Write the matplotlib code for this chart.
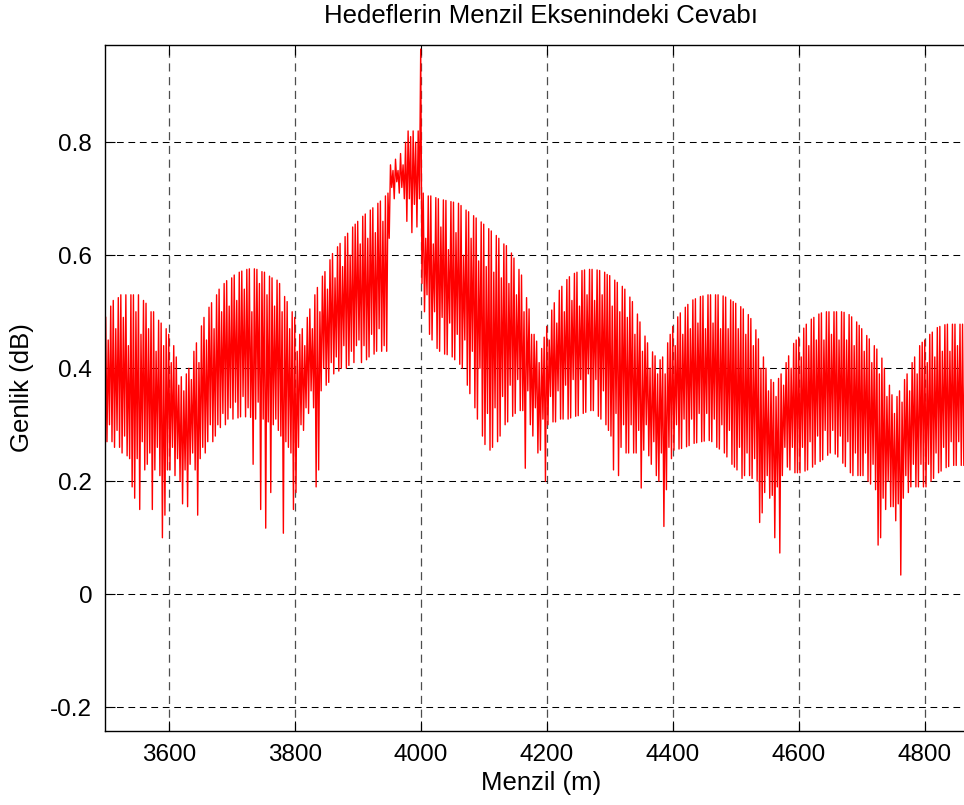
import numpy as np
import matplotlib
matplotlib.use("Agg")
import matplotlib.pyplot as plt

plt.rcParams['font.family'] = ['Liberation Sans', 'DejaVu Sans']

# menzil ekseni: her 2 m'de bir ornek (tepe, cukur, tepe, cukur ...)
menzil_bas = 3500
adim = 2

# tepe degerleri (her satir 100 m)
tepe = [
    0.49, 0.45, 0.51, 0.52, 0.47, 0.525, 0.53, 0.49, 0.53, 0.44, 0.53, 0.53, 0.50, 0.53, 0.46, 0.52, 0.515, 0.47, 0.50, 0.50, 0.43, 0.485, 0.48, 0.44, 0.47,
    0.46, 0.41, 0.44, 0.42, 0.37, 0.385, 0.36, 0.39, 0.40, 0.38, 0.43, 0.445, 0.41, 0.475, 0.49, 0.45, 0.508, 0.516, 0.47, 0.53, 0.54, 0.50, 0.55, 0.555, 0.51,
    0.56, 0.565, 0.52, 0.57, 0.572, 0.54, 0.575, 0.576, 0.50, 0.576, 0.575, 0.55, 0.571, 0.57, 0.53, 0.563, 0.56, 0.51, 0.556, 0.55, 0.50, 0.527, 0.518, 0.47, 0.50,
    0.49, 0.43, 0.46, 0.47, 0.44, 0.49, 0.505, 0.47, 0.53, 0.543, 0.50, 0.563, 0.571, 0.54, 0.592, 0.603, 0.56, 0.615, 0.621, 0.58, 0.633, 0.639, 0.60, 0.65, 0.655,
    0.66, 0.62, 0.669, 0.673, 0.63, 0.68, 0.684, 0.64, 0.692, 0.696, 0.66, 0.705, 0.71, 0.76, 0.75, 0.77, 0.75, 0.78, 0.76, 0.80, 0.82, 0.81, 0.82, 0.80, 0.82,
    0.965, 0.71, 0.63, 0.705, 0.705, 0.62, 0.702, 0.70, 0.65, 0.698, 0.697, 0.61, 0.695, 0.694, 0.64, 0.692, 0.688, 0.60, 0.68, 0.677, 0.63, 0.67, 0.666, 0.59, 0.659,
    0.655, 0.58, 0.647, 0.643, 0.57, 0.635, 0.63, 0.56, 0.62, 0.617, 0.55, 0.604, 0.595, 0.53, 0.575, 0.565, 0.50, 0.525, 0.505, 0.46, 0.46, 0.448, 0.41, 0.435, 0.455,
    0.474, 0.45, 0.503, 0.516, 0.48, 0.538, 0.545, 0.50, 0.557, 0.562, 0.52, 0.568, 0.57, 0.51, 0.573, 0.574, 0.53, 0.575, 0.575, 0.52, 0.574, 0.573, 0.53, 0.57, 0.566,
    0.564, 0.51, 0.556, 0.552, 0.50, 0.545, 0.54, 0.49, 0.526, 0.518, 0.46, 0.496, 0.482, 0.43, 0.457, 0.445, 0.40, 0.429, 0.422, 0.39, 0.415, 0.42, 0.39, 0.445, 0.46,
    0.474, 0.44, 0.491, 0.498, 0.46, 0.508, 0.513, 0.47, 0.521, 0.523, 0.48, 0.527, 0.528, 0.47, 0.53, 0.53, 0.48, 0.53, 0.53, 0.47, 0.528, 0.526, 0.47, 0.521, 0.518,
    0.515, 0.47, 0.509, 0.505, 0.46, 0.495, 0.488, 0.44, 0.468, 0.452, 0.40, 0.42, 0.40, 0.36, 0.38, 0.375, 0.35, 0.382, 0.39, 0.37, 0.41, 0.422, 0.40, 0.444, 0.45,
    0.455, 0.42, 0.471, 0.478, 0.44, 0.487, 0.49, 0.45, 0.496, 0.498, 0.45, 0.50, 0.50, 0.46, 0.50, 0.50, 0.45, 0.50, 0.499, 0.45, 0.495, 0.491, 0.44, 0.482, 0.476,
    0.47, 0.43, 0.458, 0.452, 0.41, 0.44, 0.434, 0.39, 0.418, 0.40, 0.35, 0.37, 0.353, 0.32, 0.35, 0.36, 0.34, 0.38, 0.39, 0.36, 0.41, 0.42, 0.39, 0.44, 0.446,
    0.45, 0.41, 0.46, 0.464, 0.42, 0.472, 0.474, 0.43, 0.477, 0.478, 0.43, 0.478, 0.478, 0.44, 0.478, 0.478, 0.43, 0.476, 0.474, 0.43, 0.47, 0.467, 0.42, 0.459, 0.455,
]

# cukur degerleri
cukur = [
    0.27, 0.30, 0.27, 0.26, 0.29, 0.26, 0.25, 0.28, 0.245, 0.24, 0.19, 0.17, 0.24, 0.15, 0.27, 0.22, 0.23, 0.25, 0.15, 0.22, 0.26, 0.21, 0.10, 0.14, 0.22,
    0.22, 0.26, 0.21, 0.24, 0.20, 0.16, 0.22, 0.155, 0.23, 0.25, 0.22, 0.14, 0.24, 0.26, 0.25, 0.27, 0.30, 0.27, 0.28, 0.30, 0.295, 0.32, 0.30, 0.31, 0.33,
    0.31, 0.34, 0.312, 0.314, 0.35, 0.314, 0.33, 0.313, 0.23, 0.31, 0.34, 0.15, 0.31, 0.117, 0.305, 0.18, 0.30, 0.31, 0.29, 0.28, 0.108, 0.27, 0.26, 0.25, 0.15,
    0.18, 0.26, 0.30, 0.29, 0.33, 0.32, 0.36, 0.33, 0.19, 0.22, 0.36, 0.40, 0.37, 0.375, 0.41, 0.39, 0.42, 0.395, 0.40, 0.44, 0.40, 0.405, 0.43, 0.41, 0.44,
    0.45, 0.41, 0.44, 0.415, 0.42, 0.46, 0.425, 0.43, 0.47, 0.43, 0.44, 0.43, 0.63, 0.72, 0.70, 0.73, 0.71, 0.72, 0.70, 0.66, 0.70, 0.64, 0.69, 0.65, 0.70,
    0.55, 0.50, 0.53, 0.46, 0.45, 0.50, 0.435, 0.43, 0.49, 0.425, 0.424, 0.48, 0.42, 0.415, 0.46, 0.407, 0.40, 0.45, 0.37, 0.355, 0.43, 0.33, 0.31, 0.40, 0.28,
    0.265, 0.32, 0.255, 0.26, 0.33, 0.27, 0.28, 0.35, 0.30, 0.305, 0.37, 0.315, 0.32, 0.38, 0.325, 0.325, 0.223, 0.36, 0.30, 0.28, 0.33, 0.25, 0.255, 0.31, 0.20,
    0.30, 0.35, 0.305, 0.305, 0.36, 0.31, 0.31, 0.37, 0.31, 0.312, 0.38, 0.315, 0.316, 0.38, 0.32, 0.322, 0.39, 0.325, 0.325, 0.38, 0.315, 0.31, 0.36, 0.30, 0.29,
    0.28, 0.22, 0.32, 0.21, 0.26, 0.30, 0.25, 0.25, 0.30, 0.25, 0.25, 0.29, 0.188, 0.255, 0.30, 0.245, 0.23, 0.27, 0.21, 0.20, 0.25, 0.12, 0.185, 0.26, 0.24,
    0.255, 0.30, 0.257, 0.258, 0.31, 0.261, 0.263, 0.31, 0.267, 0.268, 0.32, 0.27, 0.271, 0.32, 0.272, 0.27, 0.31, 0.26, 0.257, 0.30, 0.25, 0.243, 0.29, 0.23, 0.225,
    0.22, 0.26, 0.205, 0.21, 0.25, 0.21, 0.205, 0.24, 0.20, 0.127, 0.144, 0.18, 0.21, 0.17, 0.175, 0.10, 0.19, 0.073, 0.21, 0.26, 0.225, 0.22, 0.26, 0.215, 0.215,
    0.215, 0.26, 0.218, 0.22, 0.27, 0.225, 0.23, 0.28, 0.235, 0.238, 0.29, 0.246, 0.25, 0.29, 0.248, 0.243, 0.28, 0.232, 0.226, 0.27, 0.215, 0.21, 0.25, 0.21, 0.21,
    0.21, 0.25, 0.20, 0.195, 0.23, 0.185, 0.087, 0.10, 0.17, 0.15, 0.20, 0.155, 0.155, 0.13, 0.16, 0.034, 0.17, 0.21, 0.18, 0.19, 0.23, 0.19, 0.19, 0.23, 0.19,
    0.19, 0.23, 0.20, 0.205, 0.25, 0.215, 0.218, 0.26, 0.224, 0.226, 0.27, 0.228, 0.228, 0.27, 0.228, 0.228, 0.26, 0.226, 0.225, 0.26, 0.22, 0.22, 0.26, 0.216, 0.215,
]

x_ticks = [3600, 3800, 4000, 4200, 4400, 4600, 4800]
y_ticks = [-0.2, 0, 0.2, 0.4, 0.6, 0.8]
y_tick_labels = ['-0.2', '0', '0.2', '0.4', '0.6', '0.8']

# sinyali birlestir
genlik = np.empty(len(tepe) + len(cukur))
genlik[0::2] = tepe
genlik[1::2] = cukur
menzil = menzil_bas + adim * np.arange(len(genlik))

fig = plt.figure(figsize=(9.64, 8.05), dpi=100)
ax = fig.add_axes([0.1086, 0.0916, 0.9049, 0.8522])

ax.plot(menzil, genlik, color='#ff0000', lw=1.0)

ax.set_xlim(3498.4, 4883)
ax.set_ylim(-0.2425, 0.9717)
ax.set_xticks(x_ticks)
ax.set_yticks(y_ticks)
ax.set_yticklabels(y_tick_labels)
ax.tick_params(direction='in', length=7, width=0.8, top=True, right=True,
               labelsize=17.5, pad=9)

ax.grid(axis='x', color='0.3', lw=0.9, linestyle=(0, (6.5, 4.5)))
ax.grid(axis='y', color='k', lw=0.75, linestyle=(0, (6.5, 4.5)))
for s in ax.spines.values():
    s.set_linewidth(1.0)

fig.text(0.5611, 1 - 16 / 805, 'Hedeflerin Menzil Eksenindeki Cevabı',
         ha='center', va='center', fontsize=18.5)
fig.text(0.5611, 1 - 783 / 805, 'Menzil (m)', ha='center', va='center', fontsize=18.5)
fig.text(22 / 964, 1 - 388 / 805, 'Genlik (dB)', ha='center', va='center',
         rotation=90, fontsize=18.5)

fig.savefig('out.png', dpi=100)
